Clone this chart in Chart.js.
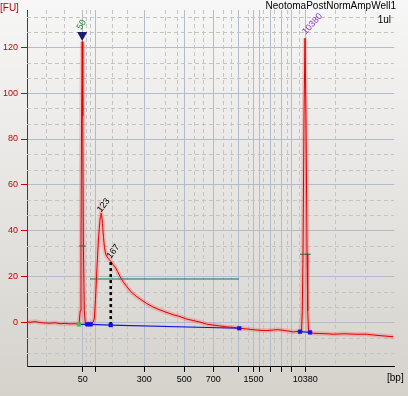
<!DOCTYPE html>
<html>
<head>
<meta charset="utf-8">
<script src="https://cdn.jsdelivr.net/npm/chart.js@4.4.1/dist/chart.umd.min.js"></script>
<style>
html,body{margin:0;padding:0;background:#e6e4e0;}
canvas{display:block;}
</style>
</head>
<body>
<canvas id="c" width="408" height="396"></canvas>
<script>
// ---- data (migration time in s, fluorescence in FU) ----
const ladderTimes  = [16.7, 20.6, 35.1, 47.1, 55.8, 63.4, 67.8, 69.6, 72.9, 76.2, 79.3, 83.3];
const ladderLabels = ['50', '', '300', '500', '700', '', '1500', '', '', '', '', '10380'];
const minorTimes   = [5.6, 11.0, 17.76, 18.96, 25.37, 30.04, 41.24, 44.83, 49.92, 52.62, 58.61, 61.09, 66.1, 70.68, 73.97, 77.86, 81.55, 92.33, 101.31];
const yTickValues  = [0, 20, 40, 60, 80, 100, 120];
const yMinorValues = [-13.33, -6.67, 6.67, 13.33, 26.67, 33.33, 46.67, 53.33, 66.67, 73.33, 86.67, 93.33, 106.67, 113.33, 126.67, 133.33];

const traceTime = [0, 0.9, 2.4, 3.9, 5.4, 6.9, 8.4, 9.9, 11.4, 12.9, 14.4, 15.3, 15.57, 15.93, 16.17, 16.35, 16.53, 16.71, 16.89, 17.16, 17.46, 18.06, 19.07, 19.77, 20.16, 20.51, 20.96, 21.35, 21.65, 21.95, 22.16, 22.40, 22.61, 22.91, 23.21, 23.57, 23.96, 24.41, 25.07, 25.76, 26.35, 27.10, 27.85, 28.75, 29.86, 31.15, 32.85, 34.14, 35.85, 37.73, 39.83, 41.63, 43.81, 45.82, 47.83, 49.71, 51.81, 53.82, 55.70, 57.80, 59.90, 61.78, 63.58, 65.80, 67.68, 69.78, 71.79, 73.67, 75.17, 76.67, 78.16, 79.75, 80.86, 81.76, 82.21, 82.45, 82.66, 82.96, 83.26, 83.56, 83.86, 84.07, 84.31, 84.76, 85.75, 87.75, 89.84, 91.73, 95.23, 98.23, 101.73, 104.22, 107.21, 109.70];
const traceFU   = [0.2, 0, 0.3, -0.1, -0.3, -0.4, -0.2, -0.6, -0.5, -0.7, -0.6, -0.8, -0.9, 5, 33, 90, 122.5, 90, 33, 5, -0.3, -0.3, -0.4, 0, 1.5, 10, 24, 35, 41, 46, 47.6, 46.5, 43, 37, 32.5, 29.8, 28.6, 27.8, 26.6, 25.3, 24.2, 22.2, 20, 17.8, 15.6, 13.3, 11.2, 9.9, 8.2, 6.7, 5.4, 4.4, 3.3, 2.5, 1.4, 0.8, 0.1, -0.8, -1.2, -1.6, -2.0, -2.2, -2.6, -2.9, -3.2, -3.5, -3.6, -3.4, -3.2, -3.5, -3.8, -4.2, -4.0, -4.1, -3.8, 5, 30, 90, 124, 90, 30, 5, -3.5, -4.4, -4.8, -4.9, -5.0, -5.2, -5.0, -5.2, -5.2, -5.6, -6.0, -6.3];

const baselineTime = [15.57, 18.06, 19.07, 25.07, 63.58, 72.0, 81.76, 84.76];
const baselineFU   = [-0.9, -0.9, -0.9, -1.2, -2.6, null, -4.1, -4.4];

const regionTime = [18.87, 63.49];
const regionFU   = [18.9, 18.9];

const peakTime = [16.53, 22.16, 25.07, 83.26];
const peakFU   = [122.5, 47.6, 26.6, 124];
const peakText = ['50', '123', '167', '10380'];

const markerTickTime = [15.66, 17.57, null, 81.76, 84.96];
const markerTickFU   = [33.3, 33.3, null, 29.7, 29.7];

const titleText = 'NeotomaPostNormAmpWell1';
const subText = '1ul';
const yUnit = '[FU]';
const xUnit = '[bp]';

// ---- helpers ----
const pts = (xs, ys) => xs.map((x, i) => ({x: x, y: ys[i]}));
const FONT = 'Liberation Sans, Arial, sans-serif';

const bgPlugin = {
  id: 'bg',
  beforeDraw(chart) {
    const ctx = chart.ctx;
    const g = ctx.createLinearGradient(0, 0, 0, chart.height);
    g.addColorStop(0, '#f7f7f7');
    g.addColorStop(1, '#d5d2cc');
    ctx.save();
    ctx.fillStyle = g;
    ctx.fillRect(0, 0, chart.width, chart.height);
    ctx.restore();
  }
};

const minorGridPlugin = {
  id: 'minorGrid',
  beforeDatasetsDraw(chart) {
    const {ctx, chartArea: a, scales: {x, y}} = chart;
    ctx.save();
    ctx.beginPath();
    ctx.rect(a.left, a.top, a.right - a.left, a.bottom - a.top);
    ctx.clip();
    ctx.strokeStyle = '#c4c4c4';
    ctx.lineWidth = 1;
    ctx.setLineDash([4, 3]);
    minorTimes.forEach(t => {
      const px = Math.round(x.getPixelForValue(t)) + 0.5;
      ctx.beginPath(); ctx.moveTo(px, a.top); ctx.lineTo(px, a.bottom); ctx.stroke();
    });
    yMinorValues.forEach(v => {
      const py = Math.round(y.getPixelForValue(v)) + 0.5;
      ctx.beginPath(); ctx.moveTo(a.left, py); ctx.lineTo(a.right, py); ctx.stroke();
    });
    ctx.restore();
  }
};

const labelPlugin = {
  id: 'labels',
  afterDatasetsDraw(chart) {
    const {ctx, scales: {x, y}} = chart;
    ctx.save();
    // lower marker triangle
    const mx = x.getPixelForValue(peakTime[0]);
    const my = y.getPixelForValue(peakFU[0]);
    ctx.fillStyle = '#1c1c6e';
    ctx.beginPath();
    ctx.moveTo(mx - 5, my - 9.5);
    ctx.lineTo(mx + 5, my - 9.5);
    ctx.lineTo(mx, my - 0.5);
    ctx.closePath();
    ctx.fill();

    const styles = [
      {color: '#228b22', dx: -3, dy: -12.5, ang: -60},
      {color: '#000000', dx: -2, dy: -2, ang: -52},
      {color: '#000000', dx: -2, dy: -4, ang: -52},
      {color: '#8e30c8', dx: -1, dy: -5, ang: -48}
    ];
    ctx.font = '9px ' + FONT;
    ctx.textAlign = 'left';
    ctx.textBaseline = 'middle';
    peakText.forEach((txt, i) => {
      const s = styles[i];
      const px = x.getPixelForValue(peakTime[i]) + s.dx;
      const py = y.getPixelForValue(peakFU[i]) + s.dy;
      ctx.save();
      ctx.translate(px, py);
      ctx.rotate(s.ang * Math.PI / 180);
      ctx.fillStyle = s.color;
      ctx.fillText(txt, 0, 0);
      ctx.restore();
    });
    ctx.restore();
  },
  afterDraw(chart) {
    const ctx = chart.ctx;
    ctx.save();
    ctx.font = '10px ' + FONT;
    ctx.textBaseline = 'top';
    ctx.fillStyle = '#000';
    ctx.textAlign = 'right';
    ctx.fillText(titleText, 396, 1);
    ctx.fillText(subText, 391, 15);
    ctx.textAlign = 'left';
    ctx.fillText(xUnit, 387, 373);
    ctx.fillStyle = '#c00000';
    ctx.fillText(yUnit, 0, 3);
    ctx.restore();
  }
};

new Chart(document.getElementById('c'), {
  type: 'line',
  data: {
    datasets: [
      {data: pts(traceTime, traceFU), borderColor: 'rgba(255,80,80,0.28)', borderWidth: 4.5, pointRadius: 0, order: 10},
      {data: pts(traceTime, traceFU), borderColor: '#e00000', borderWidth: 1, pointRadius: 0, order: 9},
      {data: pts(regionTime, regionFU), borderColor: '#1f6f58', borderWidth: 1, pointRadius: 0, order: 8},
      {data: pts(markerTickTime, markerTickFU), borderColor: '#36584a', borderWidth: 1, pointRadius: 0, spanGaps: false, order: 7},
      {data: pts([peakTime[2], peakTime[2]], [baselineFU[3], peakFU[2]]), borderColor: '#000', borderWidth: 2.5, borderDash: [3, 3], pointRadius: 0, order: 6},
      {data: pts(baselineTime, baselineFU), borderColor: '#1515d8', borderWidth: 1.2, spanGaps: false,
       pointStyle: 'rect', pointRadius: 2.6,
       pointBackgroundColor: baselineTime.map((t, i) => i === 0 ? '#2fd02f' : '#1010e8'),
       pointBorderColor: baselineTime.map((t, i) => i === 0 ? '#2fd02f' : '#1010e8'),
       pointBorderWidth: 0.5, order: 5}
    ]
  },
  options: {
    responsive: false,
    animation: false,
    devicePixelRatio: 1,
    layout: {padding: {top: 10, right: 13.7, left: 0, bottom: 0}},
    plugins: {legend: {display: false}, tooltip: {enabled: false}, title: {display: false}},
    elements: {line: {tension: 0}},
    scales: {
      x: {
        type: 'linear', min: 0, max: 110,
        afterFit: s => { s.height = 30; },
        afterBuildTicks: s => { s.ticks = ladderTimes.map(v => ({value: v})); },
        ticks: {autoSkip: false, maxRotation: 0, minRotation: 0, padding: 2, color: '#000',
                font: {family: FONT, size: 9},
                callback: (v, i) => ladderLabels[i]},
        grid: {color: '#b3bccb', lineWidth: 1, tickColor: '#000', tickLength: 6, drawTicks: true},
        border: {color: '#000', width: 1}
      },
      y: {
        type: 'linear', min: -19.07, max: 136.3,
        afterFit: s => { s.width = 27; },
        afterBuildTicks: s => { s.ticks = yTickValues.map(v => ({value: v})); },
        ticks: {padding: 3, color: '#c00000', font: {family: FONT, size: 9},
                callback: v => String(v)},
        grid: {color: '#b3bccb', lineWidth: 1, tickColor: '#c80000', tickLength: 6},
        border: {color: '#d00000', width: 1}
      }
    }
  },
  plugins: [bgPlugin, minorGridPlugin, labelPlugin]
});
</script>
</body>
</html>
